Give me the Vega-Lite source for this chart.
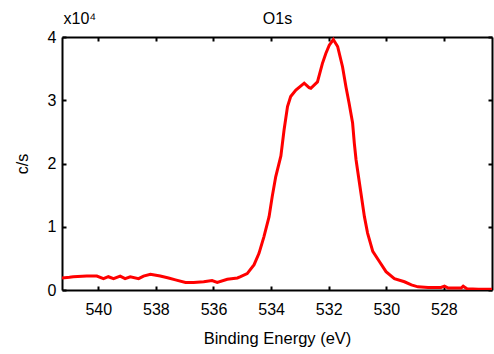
{
  "$schema": "https://vega.github.io/schema/vega-lite/v6.json",
  "width": 430,
  "height": 253,
  "autosize": {"type": "none"},
  "padding": {"left": 62, "top": 37, "right": 2, "bottom": 64},
  "background": "white",
  "data": {"values": [
    {"energy": 541.26, "cps": 1900},
    {"energy": 541.0, "cps": 2000},
    {"energy": 540.87, "cps": 2100},
    {"energy": 540.4, "cps": 2200},
    {"energy": 540.05, "cps": 2200},
    {"energy": 539.82, "cps": 1800},
    {"energy": 539.65, "cps": 2100},
    {"energy": 539.47, "cps": 1800},
    {"energy": 539.24, "cps": 2200},
    {"energy": 539.07, "cps": 1800},
    {"energy": 538.89, "cps": 2100},
    {"energy": 538.6, "cps": 1800},
    {"energy": 538.43, "cps": 2200},
    {"energy": 538.19, "cps": 2500},
    {"energy": 537.85, "cps": 2200},
    {"energy": 537.56, "cps": 1900},
    {"energy": 537.32, "cps": 1600},
    {"energy": 536.97, "cps": 1200},
    {"energy": 536.69, "cps": 1200},
    {"energy": 536.34, "cps": 1300},
    {"energy": 536.05, "cps": 1500},
    {"energy": 535.87, "cps": 1200},
    {"energy": 535.52, "cps": 1700},
    {"energy": 535.17, "cps": 1900},
    {"energy": 535.06, "cps": 2100},
    {"energy": 534.83, "cps": 2600},
    {"energy": 534.59, "cps": 4000},
    {"energy": 534.42, "cps": 5800},
    {"energy": 534.25, "cps": 8400},
    {"energy": 534.07, "cps": 11600},
    {"energy": 533.96, "cps": 14800},
    {"energy": 533.84, "cps": 17900},
    {"energy": 533.66, "cps": 21200},
    {"energy": 533.55, "cps": 25300},
    {"energy": 533.43, "cps": 29000},
    {"energy": 533.32, "cps": 30600},
    {"energy": 533.14, "cps": 31600},
    {"energy": 532.85, "cps": 32700},
    {"energy": 532.68, "cps": 32000},
    {"energy": 532.62, "cps": 31900},
    {"energy": 532.39, "cps": 32900},
    {"energy": 532.22, "cps": 35800},
    {"energy": 532.1, "cps": 37400},
    {"energy": 531.98, "cps": 38700},
    {"energy": 531.84, "cps": 39600},
    {"energy": 531.69, "cps": 38500},
    {"energy": 531.52, "cps": 35300},
    {"energy": 531.4, "cps": 32100},
    {"energy": 531.29, "cps": 29500},
    {"energy": 531.17, "cps": 26400},
    {"energy": 531.11, "cps": 23200},
    {"energy": 531.05, "cps": 20600},
    {"energy": 531.0, "cps": 19000},
    {"energy": 530.88, "cps": 15300},
    {"energy": 530.76, "cps": 11600},
    {"energy": 530.65, "cps": 9000},
    {"energy": 530.47, "cps": 6100},
    {"energy": 530.24, "cps": 4500},
    {"energy": 530.01, "cps": 2900},
    {"energy": 529.72, "cps": 1800},
    {"energy": 529.37, "cps": 1300},
    {"energy": 529.13, "cps": 800},
    {"energy": 528.9, "cps": 500},
    {"energy": 528.55, "cps": 400},
    {"energy": 528.1, "cps": 400},
    {"energy": 527.98, "cps": 600},
    {"energy": 527.85, "cps": 300},
    {"energy": 527.4, "cps": 300},
    {"energy": 527.33, "cps": 600},
    {"energy": 527.2, "cps": 200},
    {"energy": 526.8, "cps": 100},
    {"energy": 526.33, "cps": 100}
  ]},
  "config": {
    "view": {"stroke": null},
    "axis": {
      "grid": false,
      "domainColor": "black",
      "domainWidth": 2,
      "tickColor": "black",
      "tickWidth": 2,
      "tickSize": -4,
      "labelFont": "Liberation Sans",
      "labelFontSize": 16,
      "labelColor": "black",
      "titleFont": "Liberation Sans",
      "titleFontSize": 16,
      "titleFontWeight": "normal",
      "titleColor": "black"
    }
  },
  "resolve": {"axis": {"x": "independent", "y": "independent"}},
  "layer": [
    {
      "mark": {"type": "line", "color": "#ff0000", "strokeWidth": 3, "clip": true},
      "encoding": {
        "x": {"field": "energy", "type": "quantitative",
          "scale": {"domain": [526.33, 541.26], "reverse": true, "nice": false, "zero": false},
          "axis": {"orient": "bottom", "values": [540, 538, 536, 534, 532, 530, 528], "title": "Binding Energy (eV)", "titleFontSize": 16.5, "labelPadding": 15, "titlePadding": 13}},
        "y": {"field": "cps", "type": "quantitative",
          "scale": {"domain": [0, 40000], "nice": false},
          "axis": {"orient": "left", "values": [0, 10000, 20000, 30000, 40000], "labelExpr": "datum.value / 10000", "title": "c/s", "labelPadding": 10, "titlePadding": 17}}
      }
    },
    {
      "mark": {"type": "line", "opacity": 0},
      "encoding": {
        "x": {"field": "energy", "type": "quantitative",
          "axis": {"orient": "top", "values": [540, 538, 536, 534, 532, 530, 528], "labels": false, "title": "O1s", "titleX": 215, "titleY": -14, "titleAlign": "center", "titleBaseline": "alphabetic", "titleAngle": 0}},
        "y": {"field": "cps", "type": "quantitative",
          "axis": {"orient": "right", "values": [0, 10000, 20000, 30000, 40000], "labels": false, "title": "x10⁴", "titleX": -429, "titleY": -14, "titleAlign": "left", "titleBaseline": "alphabetic", "titleAngle": 0}}
      }
    }
  ]
}
